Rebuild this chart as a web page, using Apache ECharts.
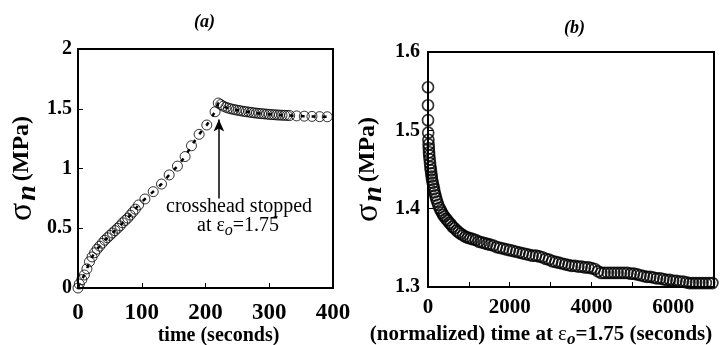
<!DOCTYPE html>
<html>
<head>
<meta charset="utf-8">
<script src="https://cdn.jsdelivr.net/npm/echarts@6/dist/echarts.min.js"></script>
<style>html,body{margin:0;padding:0;background:#fff;}#c{width:721px;height:345px;}</style>
</head>
<body>
<div id="c"></div>
<script>
// ---- panel (a): loading then relaxation ----
const leftTime = [0, 2, 6, 10, 14, 18, 22, 26, 30, 34, 38, 42, 46, 50, 54, 58, 62, 66, 70, 74, 78, 82, 86, 90, 95, 105, 118, 131, 143, 156, 168, 178, 190, 202, 215, 220, 224, 228, 232, 236, 240, 244, 248, 252, 256, 260, 264, 268, 272, 276, 280, 284, 288, 292, 296, 300, 304, 308, 312, 316, 320, 324, 328, 332, 343, 355, 367, 379, 391];
const leftStress = [0, 0.033, 0.07, 0.109, 0.16, 0.22, 0.26, 0.295, 0.325, 0.35, 0.375, 0.40, 0.42, 0.44, 0.46, 0.48, 0.50, 0.52, 0.545, 0.565, 0.585, 0.61, 0.635, 0.66, 0.695, 0.745, 0.806, 0.87, 0.946, 1.02, 1.10, 1.19, 1.286, 1.364, 1.475, 1.548, 1.535, 1.522, 1.512, 1.505, 1.499, 1.494, 1.49, 1.486, 1.482, 1.478, 1.475, 1.472, 1.469, 1.466, 1.463, 1.461, 1.459, 1.457, 1.455, 1.453, 1.451, 1.45, 1.448, 1.447, 1.446, 1.445, 1.444, 1.443, 1.44, 1.438, 1.436, 1.434, 1.433];

// ---- panel (b): relaxation at eps=1.75 ----
const rightTime = [0, 0, 0, 5, 10, 15, 20, 25, 30, 40, 50, 60, 70, 80, 90, 100, 115, 130, 145, 160, 180, 200, 225, 250, 280, 310, 340, 370, 400, 440, 480, 520, 560, 600, 650, 700, 750, 800, 860, 920, 980, 1040, 1100, 1170, 1240, 1310, 1380, 1450, 1520, 1600, 1680, 1760, 1840, 1920, 2000, 2080, 2160, 2240, 2320, 2400, 2480, 2560, 2640, 2720, 2800, 2880, 2960, 3040, 3120, 3200, 3280, 3360, 3440, 3520, 3600, 3680, 3760, 3840, 3920, 4000, 4080, 4160, 4240, 4320, 4400, 4480, 4560, 4640, 4720, 4800, 4880, 4960, 5040, 5120, 5200, 5280, 5360, 5440, 5520, 5600, 5680, 5760, 5840, 5920, 6000, 6080, 6160, 6240, 6320, 6400, 6480, 6560, 6640, 6720, 6800, 6880, 6960];
const rightStress = [1.555, 1.532, 1.513, 1.497, 1.488, 1.482, 1.477, 1.472, 1.468, 1.463, 1.458, 1.453, 1.449, 1.445, 1.441, 1.437, 1.433, 1.429, 1.425, 1.421, 1.417, 1.413, 1.409, 1.405, 1.401, 1.398, 1.395, 1.392, 1.390, 1.387, 1.385, 1.382, 1.380, 1.377, 1.375, 1.372, 1.370, 1.368, 1.366, 1.364, 1.363, 1.362, 1.361, 1.360, 1.358, 1.357, 1.356, 1.355, 1.354, 1.353, 1.351, 1.350, 1.349, 1.348, 1.347, 1.346, 1.345, 1.344, 1.343, 1.342, 1.341, 1.340, 1.340, 1.339, 1.338, 1.336, 1.335, 1.333, 1.332, 1.331, 1.330, 1.329, 1.328, 1.327, 1.327, 1.326, 1.326, 1.325, 1.325, 1.324, 1.323, 1.320, 1.318, 1.318, 1.318, 1.318, 1.318, 1.318, 1.318, 1.318, 1.318, 1.317, 1.317, 1.316, 1.315, 1.314, 1.313, 1.313, 1.312, 1.311, 1.311, 1.310, 1.309, 1.309, 1.308, 1.308, 1.307, 1.307, 1.306, 1.305, 1.305, 1.305, 1.305, 1.305, 1.305, 1.305, 1.305];

// axis ranges / tick steps
const leftX = {min: 0, max: 400, step: 100};
const leftY = {min: 0, max: 2, step: 0.5};
const rightX = {min: 0, max: 7000, step: 2000};
const rightY = {min: 1.3, max: 1.6, step: 0.1};

const SERIF = '"Liberation Serif", "Times New Roman", serif';
const zip = (a, b) => a.map((v, i) => [v, b[i]]);
const leftData = zip(leftTime, leftStress);
const rightData = zip(rightTime, rightStress);
const plain = v => String(v);

const sigmaRich = {
  s: {fontFamily: SERIF, fontSize: 34, fontWeight: 'normal', color: '#000', padding: [0, 2, 0, 0]},
  n: {fontFamily: SERIF, fontSize: 28, fontWeight: 'bold', fontStyle: 'italic', color: '#000', padding: [12, 4, 0, 0]},
  m: {fontFamily: SERIF, fontSize: 24, fontWeight: 'bold', color: '#000'}
};

function valueAxis(gridIndex, r, labelSize, labelMargin, extra) {
  return Object.assign({
    type: 'value', gridIndex: gridIndex, min: r.min, max: r.max, interval: r.step,
    nameMoveOverlap: false,
    axisLine: {show: true, lineStyle: {color: '#000', width: 2}},
    axisTick: {show: true, inside: true, length: 5, lineStyle: {color: '#000', width: 1}},
    splitLine: {show: false},
    axisLabel: {color: '#000', fontFamily: SERIF, fontWeight: 'bold', fontSize: labelSize, margin: labelMargin, formatter: plain}
  }, extra || {});
}

const chart = echarts.init(document.getElementById('c'), null, {renderer: 'canvas'});
chart.setOption({
  animation: false,
  backgroundColor: '#fff',
  grid: [
    {left: 78, right: 388, top: 49, bottom: 57, show: true, borderColor: '#000', borderWidth: 2, backgroundColor: 'transparent', containLabel: false, outerBoundsMode: 'none'},
    {left: 428, right: 7, top: 52, bottom: 58, show: true, borderColor: '#000', borderWidth: 2, backgroundColor: 'transparent', containLabel: false, outerBoundsMode: 'none'}
  ],
  xAxis: [
    valueAxis(0, leftX, 23, 14, {
      name: 'time (seconds)', nameLocation: 'middle', nameGap: 38,
      nameTextStyle: {color: '#000', fontFamily: SERIF, fontWeight: 'bold', fontSize: 20, padding: [0, 0, 0, 26]}
    }),
    valueAxis(1, rightX, 21, 10, {
      minorTick: {show: true, splitNumber: 2, length: 5, lineStyle: {color: '#000', width: 1}},
      axisLabel: {color: '#000', fontFamily: SERIF, fontWeight: 'bold', fontSize: 21, margin: 10, showMaxLabel: false, formatter: plain},
      name: '(normalized) time at {e|ε}{o|o}=1.75 (seconds)', nameLocation: 'middle', nameGap: 34,
      nameTextStyle: {color: '#000', fontFamily: SERIF, fontWeight: 'bold', fontSize: 21, padding: [0, 60, 0, 0],
        rich: {
          e: {fontFamily: SERIF, fontSize: 21, fontWeight: 'normal', color: '#000'},
          o: {fontFamily: SERIF, fontSize: 17, fontWeight: 'bold', fontStyle: 'italic', color: '#000', padding: [10, 0, 0, 0]}
        }}
    })
  ],
  yAxis: [
    valueAxis(0, leftY, 20, 6, {
      axisLabel: {color: '#000', fontFamily: SERIF, fontWeight: 'bold', fontSize: 20, margin: 6, padding: [7, 0, 0, 0], formatter: plain},
      name: '{s|σ}{n|n}{m|(MPa)}', nameLocation: 'middle', nameRotate: 90, nameGap: 36,
      nameTextStyle: {rich: sigmaRich}
    }),
    valueAxis(1, rightY, 20, 8, {
      axisLabel: {color: '#000', fontFamily: SERIF, fontWeight: 'bold', fontSize: 20, margin: 8, padding: [5, 0, 0, 0], formatter: plain},
      name: '{s|σ}{n|n}{m|(MPa)}', nameLocation: 'middle', nameRotate: 90, nameGap: 40,
      nameTextStyle: {rich: sigmaRich}
    })
  ],
  series: [
    {
      type: 'line', xAxisIndex: 0, yAxisIndex: 0, data: leftData, showSymbol: false, silent: true,
      lineStyle: {color: '#000', width: 2.5, type: [4, 7]}, z: 1
    },
    {
      type: 'scatter', xAxisIndex: 0, yAxisIndex: 0, data: leftData, symbol: 'circle', symbolSize: 10,
      itemStyle: {color: 'rgba(255,255,255,0)', borderColor: '#000', borderWidth: 1}, z: 2,
      markLine: {
        silent: true, symbol: ['none', 'arrow'], symbolSize: [8, 12],
        lineStyle: {color: '#000', width: 1.5, type: 'solid'}, label: {show: false},
        data: [[{coord: [221, 0.75]}, {coord: [221, 1.41]}]]
      }
    },
    {
      type: 'scatter', xAxisIndex: 1, yAxisIndex: 1, data: rightData, symbol: 'circle', symbolSize: 11,
      itemStyle: {color: 'rgba(255,255,255,0)', borderColor: '#000', borderWidth: 1.7}
    }
  ],
  graphic: [
    {type: 'text', left: 194, top: 13, style: {text: '(a)', font: 'italic bold 18px ' + SERIF, fill: '#000'}},
    {type: 'text', left: 564, top: 19, style: {text: '(b)', font: 'italic bold 18px ' + SERIF, fill: '#000'}},
    {type: 'text', left: 166, top: 197, style: {text: 'crosshead stopped', font: '20px ' + SERIF, fill: '#000'}},
    {type: 'text', left: 197, top: 216, style: {
      text: 'at {e|ε}{o|o}=1.75', font: '20px ' + SERIF, fill: '#000',
      rich: {
        e: {fontFamily: SERIF, fontSize: 20, fill: '#000'},
        o: {fontFamily: SERIF, fontSize: 16, fontStyle: 'italic', fill: '#000', padding: [9, 0, 0, 0]}
      }
    }}
  ]
});
</script>
</body>
</html>
